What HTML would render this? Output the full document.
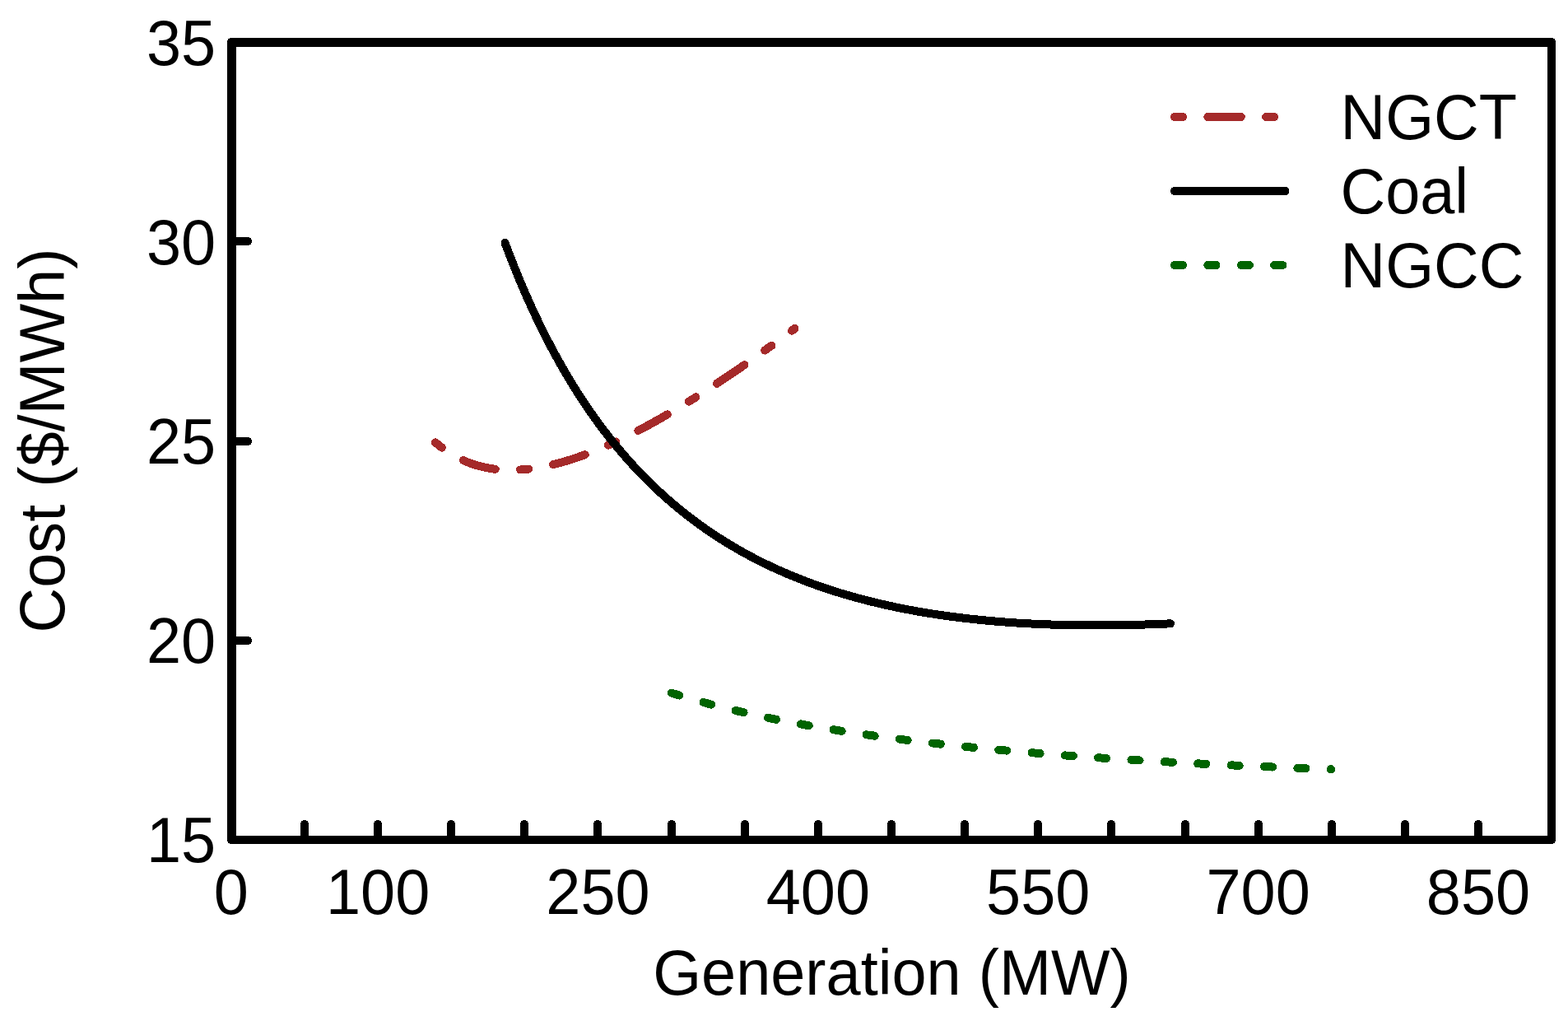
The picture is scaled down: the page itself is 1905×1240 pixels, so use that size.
<!DOCTYPE html>
<html><head><meta charset="utf-8"><title>Cost vs Generation</title>
<style>
html,body{margin:0;padding:0;background:#fff;}
body{width:1905px;height:1240px;overflow:hidden;}
svg{display:block;}
text{font-family:'Liberation Sans',Arial,sans-serif;font-size:75.7px;fill:#000;}
</style></head>
<body>
<svg shape-rendering="crispEdges" width="1905" height="1240" viewBox="0 0 1905 1240">
<rect x="0" y="0" width="1905" height="1240" fill="#fff"/>
<!-- curves -->
<path d="M815.75,841.57 L819.78,842.84 L823.80,844.09 L827.83,845.32 L831.86,846.53 L835.89,847.72 L839.91,848.89 L843.94,850.05 L847.97,851.18 L852.00,852.31 L856.02,853.41 L860.05,854.50 L864.08,855.57 L868.11,856.62 L872.13,857.66 L876.16,858.69 L880.19,859.70 L884.22,860.69 L888.24,861.67 L892.27,862.64 L896.30,863.59 L900.33,864.54 L904.35,865.46 L908.38,866.38 L912.41,867.28 L916.44,868.17 L920.46,869.04 L924.49,869.91 L928.52,870.76 L932.55,871.60 L936.57,872.44 L940.60,873.25 L944.63,874.06 L948.66,874.86 L952.68,875.65 L956.71,876.43 L960.74,877.19 L964.77,877.95 L968.79,878.70 L972.82,879.44 L976.85,880.16 L980.88,880.88 L984.90,881.59 L988.93,882.29 L992.96,882.99 L996.99,883.67 L1001.01,884.34 L1005.04,885.01 L1009.07,885.67 L1013.10,886.32 L1017.12,886.96 L1021.15,887.60 L1025.18,888.22 L1029.21,888.84 L1033.23,889.45 L1037.26,890.06 L1041.29,890.66 L1045.32,891.25 L1049.34,891.83 L1053.37,892.41 L1057.40,892.98 L1061.43,893.54 L1065.45,894.09 L1069.48,894.64 L1073.51,895.19 L1077.53,895.73 L1081.56,896.26 L1085.59,896.78 L1089.62,897.30 L1093.64,897.81 L1097.67,898.32 L1101.70,898.82 L1105.73,899.32 L1109.75,899.81 L1113.78,900.29 L1117.81,900.77 L1121.84,901.25 L1125.86,901.72 L1129.89,902.18 L1133.92,902.64 L1137.95,903.09 L1141.97,903.54 L1146.00,903.98 L1150.03,904.42 L1154.06,904.86 L1158.08,905.29 L1162.11,905.71 L1166.14,906.13 L1170.17,906.55 L1174.19,906.96 L1178.22,907.36 L1182.25,907.77 L1186.28,908.16 L1190.30,908.56 L1194.33,908.95 L1198.36,909.33 L1202.39,909.72 L1206.41,910.09 L1210.44,910.47 L1214.47,910.84 L1218.50,911.20 L1222.52,911.57 L1226.55,911.92 L1230.58,912.28 L1234.61,912.63 L1238.63,912.98 L1242.66,913.32 L1246.69,913.66 L1250.72,914.00 L1254.74,914.33 L1258.77,914.66 L1262.80,914.99 L1266.83,915.31 L1270.85,915.64 L1274.88,915.95 L1278.91,916.27 L1282.94,916.58 L1286.96,916.88 L1290.99,917.19 L1295.02,917.49 L1299.05,917.79 L1303.07,918.09 L1307.10,918.38 L1311.13,918.67 L1315.16,918.96 L1319.18,919.24 L1323.21,919.52 L1327.24,919.80 L1331.27,920.08 L1335.29,920.35 L1339.32,920.62 L1343.35,920.89 L1347.38,921.15 L1351.40,921.42 L1355.43,921.68 L1359.46,921.93 L1363.48,922.19 L1367.51,922.44 L1371.54,922.69 L1375.57,922.94 L1379.59,923.18 L1383.62,923.43 L1387.65,923.67 L1391.68,923.91 L1395.70,924.14 L1399.73,924.38 L1403.76,924.61 L1407.79,924.84 L1411.81,925.07 L1415.84,925.29 L1419.87,925.51 L1423.90,925.74 L1427.92,925.95 L1431.95,926.17 L1435.98,926.39 L1440.01,926.60 L1444.03,926.81 L1448.06,927.02 L1452.09,927.22 L1456.12,927.43 L1460.14,927.63 L1464.17,927.83 L1468.20,928.03 L1472.23,928.23 L1476.25,928.43 L1480.28,928.62 L1484.31,928.81 L1488.34,929.00 L1492.36,929.19 L1496.39,929.38 L1500.42,929.56 L1504.45,929.74 L1508.47,929.92 L1512.50,930.10 L1516.53,930.28 L1520.56,930.46 L1524.58,930.63 L1528.61,930.81 L1532.64,930.98 L1536.67,931.15 L1540.69,931.32 L1544.72,931.48 L1548.75,931.65 L1552.78,931.81 L1556.80,931.97 L1560.83,932.13 L1564.86,932.29 L1568.89,932.45 L1572.91,932.61 L1576.94,932.76 L1580.97,932.91 L1585.00,933.07 L1589.02,933.22 L1593.05,933.37 L1597.08,933.51 L1601.11,933.66 L1605.13,933.80 L1609.16,933.95 L1613.19,934.09 L1617.22,934.23" fill="none" stroke="#006400" stroke-width="10" stroke-linecap="round" stroke-linejoin="round" stroke-dasharray="10.105 30.315"/>
<path d="M528.87,537.26 L531.07,539.13 L533.26,540.92 L535.46,542.65 L537.65,544.32 L539.85,545.91 L542.04,547.45 L544.23,548.92 L546.43,550.33 L548.62,551.69 L550.82,552.98 L553.01,554.22 L555.21,555.41 L557.40,556.54 L559.59,557.62 L561.79,558.65 L563.98,559.63 L566.18,560.57 L568.37,561.45 L570.57,562.29 L572.76,563.08 L574.95,563.83 L577.15,564.54 L579.34,565.20 L581.54,565.82 L583.73,566.40 L585.93,566.94 L588.12,567.45 L590.31,567.91 L592.51,568.34 L594.70,568.73 L596.90,569.09 L599.09,569.41 L601.29,569.70 L603.48,569.95 L605.67,570.17 L607.87,570.36 L610.06,570.52 L612.26,570.64 L614.45,570.74 L616.64,570.81 L618.84,570.84 L621.03,570.85 L623.23,570.84 L625.42,570.79 L627.62,570.72 L629.81,570.62 L632.00,570.49 L634.20,570.34 L636.39,570.17 L638.59,569.96 L640.78,569.74 L642.98,569.49 L645.17,569.22 L647.36,568.93 L649.56,568.61 L651.75,568.27 L653.95,567.91 L656.14,567.53 L658.34,567.13 L660.53,566.71 L662.72,566.27 L664.92,565.81 L667.11,565.33 L669.31,564.83 L671.50,564.31 L673.70,563.77 L675.89,563.21 L678.08,562.64 L680.28,562.05 L682.47,561.44 L684.67,560.82 L686.86,560.17 L689.06,559.51 L691.25,558.84 L693.44,558.15 L695.64,557.44 L697.83,556.72 L700.03,555.99 L702.22,555.23 L704.42,554.47 L706.61,553.69 L708.80,552.89 L711.00,552.08 L713.19,551.26 L715.39,550.42 L717.58,549.57 L719.78,548.71 L721.97,547.83 L724.16,546.94 L726.36,546.04 L728.55,545.13 L730.75,544.20 L732.94,543.26 L735.14,542.31 L737.33,541.35 L739.52,540.38 L741.72,539.39 L743.91,538.40 L746.11,537.39 L748.30,536.37 L750.50,535.34 L752.69,534.30 L754.88,533.25 L757.08,532.19 L759.27,531.12 L761.47,530.04 L763.66,528.95 L765.86,527.85 L768.05,526.74 L770.24,525.62 L772.44,524.49 L774.63,523.35 L776.83,522.21 L779.02,521.05 L781.21,519.88 L783.41,518.71 L785.60,517.53 L787.80,516.34 L789.99,515.14 L792.19,513.93 L794.38,512.71 L796.57,511.49 L798.77,510.26 L800.96,509.02 L803.16,507.77 L805.35,506.51 L807.55,505.25 L809.74,503.98 L811.93,502.70 L814.13,501.41 L816.32,500.12 L818.52,498.82 L820.71,497.51 L822.91,496.20 L825.10,494.88 L827.29,493.55 L829.49,492.22 L831.68,490.87 L833.88,489.53 L836.07,488.17 L838.27,486.81 L840.46,485.44 L842.65,484.07 L844.85,482.69 L847.04,481.30 L849.24,479.91 L851.43,478.52 L853.63,477.11 L855.82,475.70 L858.01,474.29 L860.21,472.87 L862.40,471.44 L864.60,470.01 L866.79,468.57 L868.99,467.12 L871.18,465.68 L873.37,464.22 L875.57,462.76 L877.76,461.30 L879.96,459.83 L882.15,458.35 L884.35,456.87 L886.54,455.39 L888.73,453.90 L890.93,452.40 L893.12,450.90 L895.32,449.40 L897.51,447.89 L899.71,446.38 L901.90,444.86 L904.09,443.33 L906.29,441.81 L908.48,440.27 L910.68,438.74 L912.87,437.20 L915.07,435.65 L917.26,434.10 L919.45,432.55 L921.65,430.99 L923.84,429.43 L926.04,427.86 L928.23,426.29 L930.42,424.72 L932.62,423.14 L934.81,421.55 L937.01,419.97 L939.20,418.38 L941.40,416.78 L943.59,415.18 L945.78,413.58 L947.98,411.98 L950.17,410.37 L952.37,408.75 L954.56,407.14 L956.76,405.52 L958.95,403.89 L961.14,402.27 L963.34,400.64 L965.53,399.00" fill="none" stroke="#A52A2A" stroke-width="10" stroke-linecap="round" stroke-linejoin="round" stroke-dasharray="10.13 30.39 40.52 30.39"/>
<path d="M613.49,294.90 L617.55,305.68 L621.62,316.18 L625.68,326.39 L629.74,336.35 L633.80,346.04 L637.87,355.49 L641.93,364.69 L645.99,373.67 L650.06,382.42 L654.12,390.95 L658.18,399.27 L662.25,407.39 L666.31,415.31 L670.37,423.05 L674.43,430.59 L678.50,437.96 L682.56,445.16 L686.62,452.18 L690.69,459.05 L694.75,465.75 L698.81,472.30 L702.88,478.70 L706.94,484.96 L711.00,491.07 L715.07,497.05 L719.13,502.89 L723.19,508.61 L727.25,514.20 L731.32,519.66 L735.38,525.01 L739.44,530.24 L743.51,535.35 L747.57,540.36 L751.63,545.26 L755.70,550.05 L759.76,554.74 L763.82,559.34 L767.88,563.83 L771.95,568.23 L776.01,572.54 L780.07,576.76 L784.14,580.89 L788.20,584.94 L792.26,588.90 L796.33,592.78 L800.39,596.58 L804.45,600.31 L808.51,603.95 L812.58,607.53 L816.64,611.03 L820.70,614.46 L824.77,617.82 L828.83,621.11 L832.89,624.33 L836.96,627.50 L841.02,630.59 L845.08,633.63 L849.14,636.60 L853.21,639.52 L857.27,642.37 L861.33,645.17 L865.40,647.92 L869.46,650.61 L873.52,653.24 L877.59,655.82 L881.65,658.36 L885.71,660.84 L889.78,663.27 L893.84,665.65 L897.90,667.99 L901.96,670.28 L906.03,672.52 L910.09,674.72 L914.15,676.88 L918.22,678.99 L922.28,681.06 L926.34,683.09 L930.41,685.08 L934.47,687.03 L938.53,688.94 L942.59,690.81 L946.66,692.65 L950.72,694.44 L954.78,696.20 L958.85,697.93 L962.91,699.62 L966.97,701.27 L971.04,702.90 L975.10,704.48 L979.16,706.04 L983.22,707.56 L987.29,709.06 L991.35,710.52 L995.41,711.95 L999.48,713.35 L1003.54,714.72 L1007.60,716.06 L1011.67,717.38 L1015.73,718.66 L1019.79,719.92 L1023.86,721.15 L1027.92,722.36 L1031.98,723.54 L1036.04,724.69 L1040.11,725.82 L1044.17,726.92 L1048.23,728.00 L1052.30,729.05 L1056.36,730.08 L1060.42,731.09 L1064.49,732.07 L1068.55,733.03 L1072.61,733.97 L1076.67,734.89 L1080.74,735.79 L1084.80,736.66 L1088.86,737.51 L1092.93,738.34 L1096.99,739.16 L1101.05,739.95 L1105.12,740.72 L1109.18,741.47 L1113.24,742.21 L1117.30,742.92 L1121.37,743.61 L1125.43,744.29 L1129.49,744.95 L1133.56,745.59 L1137.62,746.22 L1141.68,746.82 L1145.75,747.41 L1149.81,747.98 L1153.87,748.54 L1157.93,749.08 L1162.00,749.60 L1166.06,750.11 L1170.12,750.60 L1174.19,751.08 L1178.25,751.54 L1182.31,751.98 L1186.38,752.41 L1190.44,752.83 L1194.50,753.23 L1198.57,753.62 L1202.63,753.99 L1206.69,754.35 L1210.75,754.69 L1214.82,755.03 L1218.88,755.34 L1222.94,755.65 L1227.01,755.94 L1231.07,756.22 L1235.13,756.49 L1239.20,756.74 L1243.26,756.98 L1247.32,757.21 L1251.38,757.43 L1255.45,757.63 L1259.51,757.83 L1263.57,758.01 L1267.64,758.18 L1271.70,758.34 L1275.76,758.48 L1279.83,758.62 L1283.89,758.75 L1287.95,758.86 L1292.01,758.96 L1296.08,759.06 L1300.14,759.14 L1304.20,759.21 L1308.27,759.28 L1312.33,759.33 L1316.39,759.37 L1320.46,759.40 L1324.52,759.43 L1328.58,759.44 L1332.64,759.44 L1336.71,759.44 L1340.77,759.42 L1344.83,759.40 L1348.90,759.37 L1352.96,759.32 L1357.02,759.27 L1361.09,759.21 L1365.15,759.15 L1369.21,759.07 L1373.28,758.98 L1377.34,758.89 L1381.40,758.79 L1385.46,758.68 L1389.53,758.56 L1393.59,758.43 L1397.65,758.30 L1401.72,758.16 L1405.78,758.01 L1409.84,757.85 L1413.91,757.69 L1417.97,757.51 L1422.03,757.33" fill="none" stroke="#000" stroke-width="10" stroke-linecap="round" stroke-linejoin="round"/>
<!-- frame -->
<path d="M281,46 L1885,46 A5,5 0 0 1 1890,51 L1890,1020 A5,5 0 0 1 1885,1025 L281,1025 A5,5 0 0 1 276,1020 L276,51 A5,5 0 0 1 281,46 Z M287,57 L287,1015 L1880,1015 L1880,57 Z" fill="#000" fill-rule="evenodd"/>
<path d="M370,1016 L370,1001 M459,1016 L459,1001 M548,1016 L548,1001 M637,1016 L637,1001 M726,1016 L726,1001 M816,1016 L816,1001 M905,1016 L905,1001 M994,1016 L994,1001 M1083,1016 L1083,1001 M1172,1016 L1172,1001 M1261,1016 L1261,1001 M1350,1016 L1350,1001 M1440,1016 L1440,1001 M1529,1016 L1529,1001 M1618,1016 L1618,1001 M1707,1016 L1707,1001 M1796,1016 L1796,1001 M286,293 L301,293 M286,536 L301,536 M286,778 L301,778" fill="none" stroke="#000" stroke-width="10" stroke-linecap="round"/>
<!-- tick labels -->
<text transform="translate(262.2,79.0) scale(1,1.040)" text-anchor="end">35</text>
<text transform="translate(262.2,320.6) scale(1,1.040)" text-anchor="end">30</text>
<text transform="translate(262.2,562.8) scale(1,1.040)" text-anchor="end">25</text>
<text transform="translate(262.2,804.9) scale(1,1.040)" text-anchor="end">20</text>
<text transform="translate(262.2,1047.0) scale(1,1.040)" text-anchor="end">15</text>
<text transform="translate(280.9,1110.0) scale(1,1.040)" text-anchor="middle">0</text>
<text transform="translate(459.1,1110.0) scale(1,1.040)" text-anchor="middle">100</text>
<text transform="translate(726.5,1110.0) scale(1,1.040)" text-anchor="middle">250</text>
<text transform="translate(993.9,1110.0) scale(1,1.040)" text-anchor="middle">400</text>
<text transform="translate(1261.2,1110.0) scale(1,1.040)" text-anchor="middle">550</text>
<text transform="translate(1528.6,1110.0) scale(1,1.040)" text-anchor="middle">700</text>
<text transform="translate(1796.0,1110.0) scale(1,1.040)" text-anchor="middle">850</text>
<!-- axis titles -->
<text transform="translate(1083.4,1208.0) scale(1,1.040)" text-anchor="middle">Generation (MW)</text>
<text transform="translate(78.0,535.0) rotate(-90) scale(1,1.040)" text-anchor="middle">Cost ($/MWh)</text>
<!-- legend -->
<path d="M1427,142 L1561.5,142" fill="none" stroke="#A52A2A" stroke-width="10" stroke-linecap="round" stroke-dasharray="10.1 30.3 40.4 30.3"/>
<path d="M1427,232 L1561.5,232" fill="none" stroke="#000" stroke-width="10" stroke-linecap="round"/>
<path d="M1427,322 L1561.5,322" fill="none" stroke="#006400" stroke-width="10" stroke-linecap="round" stroke-dasharray="10.1 30.3"/>
<text transform="translate(1628.5,169.0) scale(1,1.040)">NGCT</text>
<text transform="translate(1628.5,259.0) scale(1,1.040)">Coal</text>
<text transform="translate(1628.5,349.0) scale(1,1.040)">NGCC</text>
</svg>
</body></html>
